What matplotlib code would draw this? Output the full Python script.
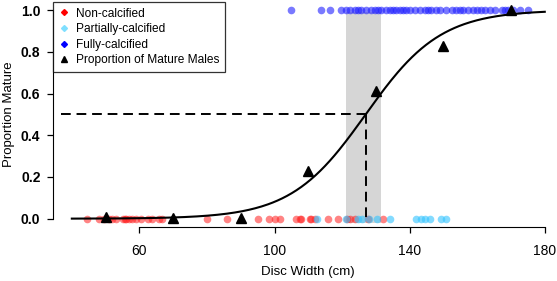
import numpy as np
import matplotlib.pyplot as plt

plt.rcParams['font.family'] = ['Liberation Sans', 'DejaVu Sans']

# disc widths of individual males (cm)
non_calcified = [44.6, 48.1, 49.6, 51.1, 52.0, 53.2, 55.0, 55.6, 56.1, 57.0, 57.9,
                 59.1, 60.6, 62.4, 63.6, 65.9, 66.8, 79.9, 85.8, 95.0, 98.5, 100.0,
                 101.5, 106.5, 107.4, 107.9, 110.4, 110.9, 111.9, 115.7, 118.7,
                 121.6, 122.2, 123.7, 127.6, 132.0]
partially_calcified = [112.7, 121.3, 124.6, 125.8, 128.1, 130.2, 134.1, 142.0,
                       143.5, 144.4, 146.1, 149.4, 150.9]
fully_calcified = [105.0, 113.8, 116.3, 119.8, 121.2, 122.2, 123.7, 124.7, 125.7,
                   127.2, 128.7, 129.6, 130.6, 131.6, 133.1, 134.1, 135.1, 136.1,
                   137.0, 138.0, 139.0, 140.0, 141.5, 143.0, 144.4, 145.4, 146.4,
                   147.9, 148.9, 150.9, 152.4, 153.8, 154.8, 155.8, 157.3, 158.8,
                   159.8, 161.2, 162.2, 163.7, 165.2, 167.2, 168.1, 169.1, 170.6,
                   172.6, 175.0]

# proportion mature by size class
class_mid = [50, 70, 90, 110, 130, 150, 170]
prop_mature = [0.01, 0.005, 0.005, 0.23, 0.61, 0.83, 1.0]

# logistic fit and 95% CI of L50
L50 = 127.0
slope = 0.09
ci_low, ci_high = 121.2, 131.6

fig = plt.figure(figsize=(5.57, 2.81), dpi=100)
ax = fig.add_axes([0.095, 0.192, 0.917, 0.802])

ax.fill_between([ci_low, ci_high], -0.02, 0.99, color='#d6d6d6', lw=0, zorder=1)

ax.plot(non_calcified, np.zeros(len(non_calcified)), 'o', color='#ff2020',
        alpha=0.55, ms=5.5, mew=0, zorder=3)
ax.plot(partially_calcified, np.zeros(len(partially_calcified)), 'o', color='#33c4ff',
        alpha=0.6, ms=5.5, mew=0, zorder=3)
ax.plot(fully_calcified, np.ones(len(fully_calcified)), 'o', color='#2020ff',
        alpha=0.6, ms=5.5, mew=0, zorder=3)

xs = np.linspace(40, 180, 300)
ax.plot(xs, 1 / (1 + np.exp(-slope * (xs - L50))), color='black', lw=1.5, zorder=4)

ax.plot([36.9, L50], [0.5, 0.5], color='black', lw=1.4, ls=(0, (5, 3)), zorder=4)
ax.plot([L50, L50], [0.5, -0.01], color='black', lw=1.4, ls=(0, (5, 3)), zorder=4)

ax.plot(class_mid, prop_mature, '^', color='black', ms=7, zorder=5)

ax.set_xlim(34.4, 185.6)
ax.set_ylim(-0.04, 1.04)
for s in ['top', 'right']:
    ax.spines[s].set_visible(False)
ax.spines['bottom'].set_bounds(60, 180)
ax.spines['left'].set_bounds(0, 1)
ax.set_xticks([60, 100, 140, 180])
ax.set_yticks([0, 0.2, 0.4, 0.6, 0.8, 1.0])
ax.set_yticklabels(['0.0', '0.2', '0.4', '0.6', '0.8', '1.0'], fontweight='bold')
ax.tick_params(labelsize=10, length=4, width=0.9)
ax.tick_params(axis='x', pad=8)
ax.tick_params(axis='y', pad=5)
ax.set_xlabel('Disc Width (cm)', fontsize=9.5, labelpad=6)
ax.set_ylabel('Proportion Mature', fontsize=9.5, labelpad=4)

handles = [
    plt.Line2D([], [], marker='D', color='red', ls='', ms=3),
    plt.Line2D([], [], marker='D', color='#7fdfff', ls='', ms=3),
    plt.Line2D([], [], marker='D', color='blue', ls='', ms=3),
    plt.Line2D([], [], marker='^', color='black', ls='', ms=4),
]
labels = ['Non-calcified', 'Partially-calcified', 'Fully-calcified',
          'Proportion of Mature Males']
leg = ax.legend(handles, labels, loc='upper left', bbox_to_anchor=(0, 1),
                borderaxespad=0, fontsize=8.6, frameon=True, fancybox=False,
                edgecolor='black', handlelength=0.8, handletextpad=0.6,
                labelspacing=0.3, borderpad=0.5)
leg.get_frame().set_linewidth(0.9)

fig.savefig('out.png', dpi=100)
